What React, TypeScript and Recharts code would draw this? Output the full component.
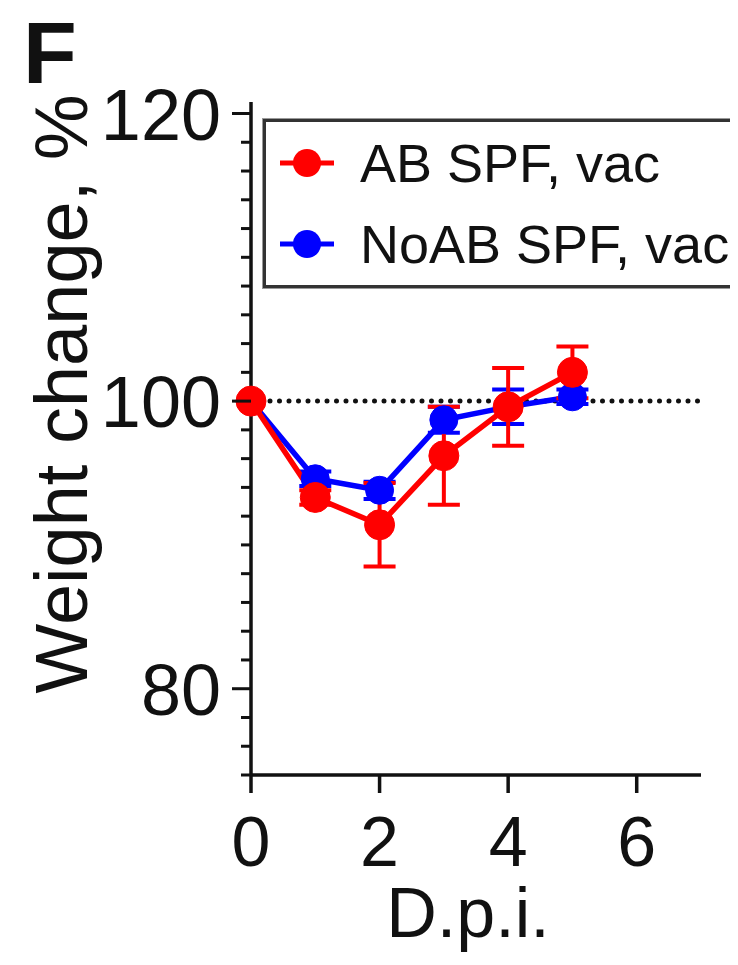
import React from "react";
import {
  LineChart,
  Line,
  XAxis,
  YAxis,
  ErrorBar,
  ReferenceLine,
  Legend,
  Label,
} from "recharts";

// days post infection
const days = [0, 1, 2, 3, 4, 5];
// AB SPF, vac (red)
const abMean = [100, 93.3, 91.4, 96.2, 99.6, 102.0];
const abSem = [0, 0.5, 2.9, 3.4, 2.7, 1.8];
// NoAB SPF, vac (blue)
const noabMean = [100, 94.6, 93.8, 98.7, 99.6, 100.3];
const noabSem = [0, 0.5, 0.6, 0.9, 1.2, 0.5];

const xTicks = [0, 2, 4, 6];
const yTicks = [74, 76, 78, 80, 82, 84, 86, 88, 90, 92, 94, 96, 98, 100, 102, 104, 106, 108, 110, 112, 114, 116, 118, 120];
const yMajor = [80, 100, 120];

const series = [
  { name: "AB SPF, vac", color: "#ff0000" },
  { name: "NoAB SPF, vac", color: "#0000ff" },
];

const data = days.map((d, i) => ({
  day: d,
  ab: abMean[i],
  abErr: abSem[i],
  noab: noabMean[i],
  noabErr: noabSem[i],
}));

const FONT = "'Liberation Sans', Arial, Helvetica, sans-serif";
const INK = "#111";

function YTick(props: any) {
  const { x, y, payload } = props;
  const major = yMajor.includes(payload.value);
  return (
    <g>
      <line x1={x - (major ? 19 : 10)} x2={x} y1={y} y2={y} stroke={INK} strokeWidth={3} />
      {major && (
        <text x={x - 30} y={y} dy={26} textAnchor="end" fontSize={72} fontFamily={FONT} fill={INK}>
          {payload.value}
        </text>
      )}
    </g>
  );
}

function XTick(props: any) {
  const { x, y, payload } = props;
  return (
    <text x={x} y={y + 73} textAnchor="middle" fontSize={70} fontFamily={FONT} fill={INK}>
      {payload.value}
    </text>
  );
}

function LegendBox() {
  return (
    <div
      style={{
        boxSizing: "border-box",
        width: 475,
        height: 169,
        border: "3px solid #333",
        outline: "1px solid #999",
        background: "#fff",
        fontFamily: FONT,
        paddingTop: 0,
      }}
    >
      {series.map((s) => (
        <div key={s.name} style={{ display: "flex", alignItems: "center", height: 81 }}>
          <svg width={90} height={40} style={{ marginLeft: 10 }}>
            <line x1={4} x2={58} y1={20} y2={20} stroke={s.color} strokeWidth={5} />
            <circle cx={31} cy={20} r={14} fill={s.color} />
          </svg>
          <span style={{ fontSize: 54, color: INK, marginLeft: -6, lineHeight: 1 }}>{s.name}</span>
        </div>
      ))}
    </div>
  );
}

export default function App() {
  return (
    <div style={{ position: "relative", width: 738, height: 965, marginLeft: -8, marginTop: -8, background: "#fff" }}>
      <div
        style={{
          position: "absolute",
          left: 23,
          top: 9,
          fontFamily: FONT,
          fontWeight: "bold",
          fontSize: 88,
          lineHeight: 1,
          color: INK,
        }}
      >
        F
      </div>
      <LineChart
        width={738}
        height={965}
        data={data}
        margin={{ top: 102, right: 37, bottom: 0, left: 0 }}
        style={{ fontFamily: FONT }}
      >
        <XAxis
          dataKey="day"
          type="number"
          domain={[0, 7]}
          ticks={xTicks}
          interval={0}
          height={190}
          tickSize={18}
          tickMargin={0}
          axisLine={{ stroke: INK, strokeWidth: 3.5 }}
          tickLine={{ stroke: INK, strokeWidth: 3.5 }}
          tick={<XTick />}
        >
          <Label
            content={() => (
              <text x={468} y={937} textAnchor="middle" fontSize={70} fontFamily={FONT} fill={INK}>
                D.p.i.
              </text>
            )}
          />
        </XAxis>
        <YAxis
          type="number"
          domain={[74, 120.8]}
          ticks={yTicks}
          interval={0}
          width={251}
          tickSize={0}
          tickMargin={0}
          axisLine={{ stroke: INK, strokeWidth: 3.5 }}
          tickLine={false}
          tick={<YTick />}
        >
          <Label
            content={() => (
              <text
                transform="translate(87,394) rotate(-90)"
                textAnchor="middle"
                fontSize={74}
                fontFamily={FONT}
                fill={INK}
              >
                Weight change, %
              </text>
            )}
          />
        </YAxis>
        <ReferenceLine
          y={100}
          stroke={INK}
          strokeWidth={5}
          strokeDasharray="0 9.5"
          strokeLinecap="round"
        />
        <Line
          dataKey="noab"
          name={series[1].name}
          stroke={series[1].color}
          strokeWidth={5.5}
          dot={{ r: 14, fill: series[1].color, stroke: series[1].color, strokeWidth: 1 }}
          activeDot={false}
          isAnimationActive={false}
        >
          <ErrorBar dataKey="noabErr" direction="y" width={16} stroke={series[1].color} strokeWidth={4} isAnimationActive={false} />
        </Line>
        <Line
          dataKey="ab"
          name={series[0].name}
          stroke={series[0].color}
          strokeWidth={5.5}
          dot={{ r: 15, fill: series[0].color, stroke: series[0].color, strokeWidth: 1 }}
          activeDot={false}
          isAnimationActive={false}
        >
          <ErrorBar dataKey="abErr" direction="y" width={16} stroke={series[0].color} strokeWidth={4} isAnimationActive={false} />
        </Line>
        <Legend
          layout="vertical"
          align="center"
          verticalAlign="middle"
          content={() => <LegendBox />}
          wrapperStyle={{ position: "absolute", left: 263, top: 119, width: 475, height: 169 }}
        />
      </LineChart>
    </div>
  );
}
